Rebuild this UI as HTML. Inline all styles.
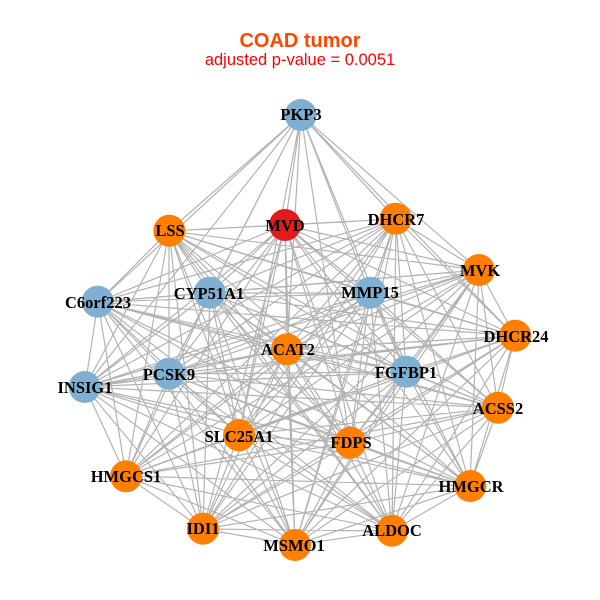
<!DOCTYPE html>
<html><head><meta charset="utf-8"><style>
html,body{margin:0;padding:0;background:#fff}
svg{display:block}
.l{font:bold 16.5px "Liberation Serif",serif;fill:#000;text-anchor:middle}
</style></head><body>
<svg width="600" height="600" viewBox="0 0 600 600" xmlns="http://www.w3.org/2000/svg">
<rect width="600" height="600" fill="#fff"/>
<text x="300" y="47" text-anchor="middle" style="font:bold 20px 'Liberation Sans',sans-serif" fill="#FF4500">COAD tumor</text>
<text x="300" y="65" text-anchor="middle" style="font:16.5px 'Liberation Sans',sans-serif" fill="#FF0000">adjusted p-value = 0.0051</text>
<path fill="none" stroke="#b3b3b3" stroke-width="1.2" d="
M301 115L169 231M301 115L285 225M301 115L396 219M301 115L479 270M301 115L98 302M301 115L210 293M301 115L370 293M301 115L515 336M301 115L287 349M301 115L406 372M301 115L85 387M301 115L169 374M301 115L239 435M301 115L350 443
M169 231L285 225M169 231L396 219M169 231L479 270M169 231L98 302M169 231L210 293M169 231L370 293M169 231L515 336M169 231L287 349M169 231L406 372M169 231L85 387M169 231L169 374M169 231L498 408M169 231L239 435M169 231L350 443M169 231L126 476M169 231L470 486M169 231L203 529M169 231L295 545M169 231L392 531
M285 225L396 219M285 225L479 270M285 225L98 302M285 225L210 293M285 225L370 293M285 225L515 336M285 225L287 349M285 225L406 372M285 225L85 387M285 225L169 374M285 225L498 408M285 225L239 435M285 225L350 443M285 225L126 476M285 225L470 486M285 225L203 529M285 225L295 545M285 225L392 531
M396 219L479 270M396 219L98 302M396 219L210 293M396 219L370 293M396 219L515 336M396 219L287 349M396 219L406 372M396 219L85 387M396 219L169 374M396 219L498 408M396 219L239 435M396 219L350 443M396 219L126 476M396 219L470 486M396 219L203 529M396 219L295 545M396 219L392 531
M479 270L98 302M479 270L210 293M479 270L370 293M479 270L515 336M479 270L287 349M479 270L406 372M479 270L85 387M479 270L169 374M479 270L498 408M479 270L239 435M479 270L350 443M479 270L126 476M479 270L470 486M479 270L203 529M479 270L295 545M479 270L392 531
M98 302L210 293M98 302L370 293M98 302L515 336M98 302L287 349M98 302L406 372M98 302L85 387M98 302L169 374M98 302L498 408M98 302L239 435M98 302L350 443M98 302L126 476M98 302L470 486M98 302L203 529M98 302L295 545M98 302L392 531
M210 293L370 293M210 293L515 336M210 293L287 349M210 293L406 372M210 293L85 387M210 293L169 374M210 293L498 408M210 293L239 435M210 293L350 443M210 293L126 476M210 293L470 486M210 293L203 529M210 293L295 545M210 293L392 531
M370 293L515 336M370 293L287 349M370 293L406 372M370 293L85 387M370 293L169 374M370 293L498 408M370 293L239 435M370 293L350 443M370 293L126 476M370 293L470 486M370 293L203 529M370 293L295 545M370 293L392 531
M515 336L287 349M515 336L406 372M515 336L85 387M515 336L169 374M515 336L498 408M515 336L239 435M515 336L350 443M515 336L126 476M515 336L470 486M515 336L203 529M515 336L295 545M515 336L392 531
M287 349L406 372M287 349L85 387M287 349L169 374M287 349L498 408M287 349L239 435M287 349L350 443M287 349L126 476M287 349L470 486M287 349L203 529M287 349L295 545M287 349L392 531
M406 372L85 387M406 372L169 374M406 372L498 408M406 372L239 435M406 372L350 443M406 372L126 476M406 372L470 486M406 372L203 529M406 372L295 545M406 372L392 531
M85 387L169 374M85 387L498 408M85 387L239 435M85 387L350 443M85 387L126 476M85 387L470 486M85 387L203 529M85 387L295 545M85 387L392 531
M169 374L498 408M169 374L239 435M169 374L350 443M169 374L126 476M169 374L470 486M169 374L203 529M169 374L295 545M169 374L392 531
M498 408L239 435M498 408L350 443M498 408L126 476M498 408L470 486M498 408L203 529M498 408L295 545M498 408L392 531
M239 435L350 443M239 435L126 476M239 435L470 486M239 435L203 529M239 435L295 545M239 435L392 531
M350 443L126 476M350 443L470 486M350 443L203 529M350 443L295 545M350 443L392 531
M126 476L470 486M126 476L203 529M126 476L295 545M126 476L392 531
M470 486L203 529M470 486L295 545M470 486L392 531
M203 529L295 545M203 529L392 531
M295 545L392 531"/>
<g fill="#7FB0D2">
<circle cx="300.7" cy="115" r="16"/><circle cx="97.7" cy="301.7" r="16"/><circle cx="209.7" cy="292.7" r="16"/><circle cx="370.3" cy="292.7" r="16"/><circle cx="406.3" cy="371.7" r="16"/><circle cx="84.7" cy="387" r="16"/><circle cx="169" cy="373.7" r="16"/>
</g>
<g fill="#FF7F00">
<circle cx="169.3" cy="230.7" r="16"/><circle cx="395.7" cy="218.7" r="16"/><circle cx="479" cy="270" r="16"/><circle cx="515.3" cy="335.7" r="16"/><circle cx="287" cy="349.3" r="16"/><circle cx="498" cy="407.7" r="16"/><circle cx="239" cy="435.3" r="16"/><circle cx="350.3" cy="442.7" r="16"/><circle cx="126" cy="476.3" r="16"/><circle cx="470.3" cy="486" r="16"/><circle cx="203" cy="528.7" r="16"/><circle cx="295" cy="545" r="16"/><circle cx="392" cy="530.7" r="16"/>
</g>
<circle cx="285" cy="225" r="16" fill="#E41A1C"/>
<text class="l" x="301" y="120">PKP3</text>
<text class="l" x="170" y="236">LSS</text>
<text class="l" x="285" y="231">MVD</text>
<text class="l" x="396" y="225">DHCR7</text>
<text class="l" x="480" y="276">MVK</text>
<text class="l" x="98" y="308">C6orf223</text>
<text class="l" x="209" y="299">CYP51A1</text>
<text class="l" x="370" y="298">MMP15</text>
<text class="l" x="516" y="342">DHCR24</text>
<text class="l" x="288" y="355">ACAT2</text>
<text class="l" x="406" y="378">FGFBP1</text>
<text class="l" x="85" y="393">INSIG1</text>
<text class="l" x="169" y="380">PCSK9</text>
<text class="l" x="498" y="414">ACSS2</text>
<text class="l" x="239" y="442">SLC25A1</text>
<text class="l" x="351" y="448">FDPS</text>
<text class="l" x="126" y="482">HMGCS1</text>
<text class="l" x="471" y="492">HMGCR</text>
<text class="l" x="203" y="534">IDI1</text>
<text class="l" x="294" y="551">MSMO1</text>
<text class="l" x="392" y="536">ALDOC</text>
</svg>
</body></html>
